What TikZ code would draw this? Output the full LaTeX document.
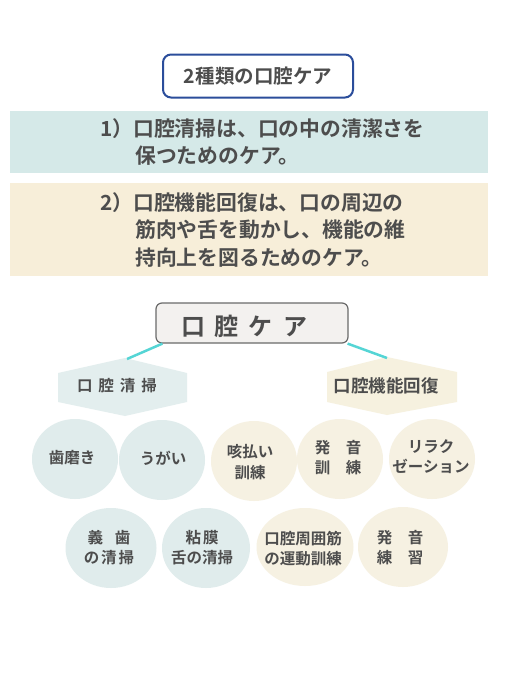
\documentclass[tikz,border=0pt]{standalone}
\usepackage{fontspec}
\newfontfamily\jp{Noto Sans CJK JP}[BoldFont={Noto Sans CJK JP Bold}]
\usetikzlibrary{shapes.geometric}
\definecolor{txt}{HTML}{4D4D4D}
\definecolor{tbord}{HTML}{2B4D9B}
\definecolor{bandb}{HTML}{D5E9E8}
\definecolor{bandy}{HTML}{F7EED9}
\definecolor{circb}{HTML}{E0ECEC}
\definecolor{circy}{HTML}{F6F1E2}
\definecolor{hexb}{HTML}{E3EEEE}
\definecolor{hexy}{HTML}{F6F1DF}
\definecolor{cyanline}{HTML}{55D5D5}
\definecolor{boxfill}{HTML}{F3F1EF}
\definecolor{boxbord}{HTML}{6A6A6A}
\tikzset{
  jptext/.style={font=\jp\bfseries, text=txt, inner sep=0pt},
  bandline/.style={jptext, anchor=west, font=\jp\bfseries\fontsize{20.8}{24}\selectfont},
  bubb/.style={ellipse, fill=circb, inner sep=0pt, minimum width=86pt, minimum height=80pt},
  buby/.style={ellipse, fill=circy, inner sep=0pt, minimum width=86pt, minimum height=80pt},
  bubtext/.style={jptext, align=center, font=\jp\bfseries\fontsize{15.5}{20}\selectfont},
  link/.style={draw=cyanline, line width=2.5pt}
}
\begin{document}
\begin{tikzpicture}[x=1pt,y=-1pt]
\useasboundingbox (0,0) rectangle (505,673);
\fill[white] (0,0) rectangle (505,673);

% title
\node[draw=tbord, line width=2pt, rounded corners=8pt, minimum width=190pt, minimum height=43pt,
  jptext, font=\jp\bfseries\fontsize{19.5}{22}\selectfont] (title) at (258,76) {2種類の口腔ケア};

% bands
\fill[bandb] (10,111) rectangle (488,173);
\fill[bandy] (10,183) rectangle (488,276);
\node[bandline] (l1) at (100,129) {1）口腔清掃は、口の中の清潔さを};
\node[bandline] (l2) at (135,156) {保つためのケア。};
\node[bandline] (l3) at (100,203) {2）口腔機能回復は、口の周辺の};
\node[bandline] (l4) at (135,230) {筋肉や舌を動かし、機能の維};
\node[bandline] (l5) at (135,258) {持向上を図るためのケア。};

% main box
\node[draw=boxbord, fill=boxfill, line width=1.2pt, rounded corners=6pt, minimum width=192pt, minimum height=40pt] (ck) at (252,323) {};
\node[jptext, font=\jp\bfseries\fontsize{24}{26}\selectfont] (cktext) at (244,326) {口\hspace{10pt}腔\hspace{10pt}ケ\hspace{10pt}ア};

% hexagons
\fill[hexb] (58,373) -- (125,358) -- (187,373) -- (187,402) -- (125,416) -- (58,402) -- cycle;
\fill[hexy] (327,372) -- (387,357) -- (457,372) -- (457,402) -- (387,415) -- (327,402) -- cycle;
\coordinate (hl) at (127,359);
\coordinate (hr) at (387,358);
\node[jptext, font=\jp\bfseries\fontsize{15.5}{18}\selectfont] (hexltext) at (117,386) {口\hspace{6pt}腔\hspace{6pt}清\hspace{6pt}掃};
\node[jptext, font=\jp\bfseries\fontsize{17.5}{20}\selectfont] (hexrtext) at (386,386) {口腔機能回復};

\draw[link] ([xshift=7pt]ck.south west) -- (hl);
\draw[link] ([xshift=-1pt]ck.south east) -- (hr);

% row 1
\node[bubb] (c1) at (75,459) {};
\node[bubb] (c2) at (162,460) {};
\node[buby] (c3) at (254,461) {};
\node[buby] (c4) at (340,459) {};
\node[buby] (c5) at (432,459) {};
\node[bubtext] at (72,458) {歯磨き};
\node[bubtext] at (163,458) {うがい};
\node[bubtext] at (250,462) {咳払い\\[1pt]訓練};
\node[bubtext] at (338,458) {発　音\\訓　練};
\node[bubtext] at (431,457) {リラク\\ゼーション};

% row 2
\node[bubb, minimum width=91pt] (c6) at (111,548) {};
\node[bubb, minimum width=88pt] (c7) at (206,548) {};
\node[buby, minimum width=97pt, minimum height=78pt] (c8) at (305,547) {};
\node[buby, minimum width=90pt] (c9) at (403,547) {};
\node[bubtext] at (109,548) {義\hspace{12pt}歯\\の\hspace{2pt}清\hspace{2pt}掃};
\node[bubtext] at (202,548) {粘\hspace{2pt}膜\\舌の清掃};
\node[bubtext] at (303,549) {口腔周囲筋\\の運動訓練};
\node[bubtext] at (400,548) {発　音\\練　習};
\end{tikzpicture}
\end{document}
